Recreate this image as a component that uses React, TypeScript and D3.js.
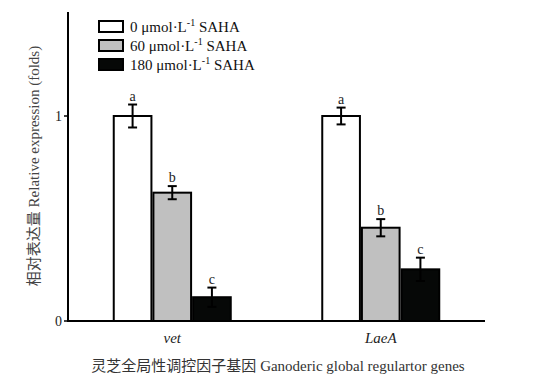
import React from "react";
import * as d3 from "d3";

const genes = ["vet", "LaeA"];
const seriesNames = ["0", "60", "180"];
const seriesColors = ["#ffffff", "#c0c0c0", "#060807"];
const means = [
  [1.0, 0.626, 0.116],
  [1.0, 0.455, 0.252],
];
const errors = [
  [0.056, 0.032, 0.047],
  [0.041, 0.042, 0.057],
];
const letters = [
  ["a", "b", "c"],
  ["a", "b", "c"],
];
const yTicks = [0, 1];

const W = 541;
const H = 391;
const serif = "Liberation Serif";
const cjk = "Noto Sans CJK SC";

export default function App() {
  const x0 = d3.scaleBand<string>().domain(genes).range([68, 485]);
  const x1 = d3.scaleBand<string>().domain(seriesNames).range([0, 117]).paddingInner(0.05);
  const y = d3.scaleLinear().domain([0, 1.5]).range([321, 13.5]);
  const groupW = 117;

  return (
    <svg width={W} height={H} style={{ position: "absolute", left: 0, top: 0, background: "#fff" }}>
      {genes.map((g, gi) => {
        const gx = (x0(g) as number) + x0.bandwidth() / 2 - groupW / 2;
        return (
          <g key={g}>
            {seriesNames.map((s, si) => {
              const bx = gx + (x1(s) as number);
              const bw = x1.bandwidth();
              const v = means[gi][si];
              const e = errors[gi][si];
              const cx = bx + bw / 2;
              return (
                <g key={s}>
                  <rect x={bx} y={y(v)} width={bw} height={y(0) - y(v)} fill={seriesColors[si]} stroke="#000" strokeWidth={2} />
                  <line x1={cx} x2={cx} y1={y(v + e)} y2={y(v - e)} stroke="#000" strokeWidth={2} />
                  <line x1={cx - 4.5} x2={cx + 4.5} y1={y(v + e)} y2={y(v + e)} stroke="#000" strokeWidth={2} />
                  <line x1={cx - 4.5} x2={cx + 4.5} y1={y(v - e)} y2={y(v - e)} stroke="#000" strokeWidth={2} />
                  <text x={cx} y={y(v + e) - 4} textAnchor="middle" fontFamily={serif} fontSize={14} fill="#222">
                    {letters[gi][si]}
                  </text>
                </g>
              );
            })}
            <text x={(x0(g) as number) + x0.bandwidth() / 2} y={343} textAnchor="middle" fontFamily={serif} fontSize={15} fontStyle="italic" fill="#222">
              {g}
            </text>
          </g>
        );
      })}

      <line x1={68} x2={68} y1={12} y2={322} stroke="#000" strokeWidth={2} />
      <line x1={67} x2={485} y1={321} y2={321} stroke="#000" strokeWidth={2} />
      {yTicks.map((t) => (
        <g key={t}>
          <line x1={64} x2={68} y1={y(t)} y2={y(t)} stroke="#000" strokeWidth={1.5} />
          <text x={62} y={y(t) + 5} textAnchor="end" fontFamily={serif} fontSize={14} fill="#222">
            {t}
          </text>
        </g>
      ))}

      <text transform="translate(39,166) rotate(-90)" textAnchor="middle" fontSize={15} fill="#444">
        <tspan fontFamily={cjk}>相对表达量</tspan>
        <tspan fontFamily={serif}> Relative expression (folds)</tspan>
      </text>

      <text x={278} y={371} textAnchor="middle" fontSize={15} fill="#333">
        <tspan fontFamily={cjk}>灵芝全局性调控因子基因</tspan>
        <tspan fontFamily={serif}> Ganoderic global regulartor genes</tspan>
      </text>

      {seriesNames.map((s, i) => {
        const ly = 21 + i * 19;
        return (
          <g key={s}>
            <rect x={99} y={ly} width={24} height={11} fill={seriesColors[i]} stroke="#000" strokeWidth={2} />
            <text x={130} y={ly + 11} fontFamily={serif} fontSize={15} fill="#111">
              {s} μmol·L<tspan dy={-6} fontSize={10}>-1</tspan>
              <tspan dy={6}> SAHA</tspan>
            </text>
          </g>
        );
      })}
    </svg>
  );
}
